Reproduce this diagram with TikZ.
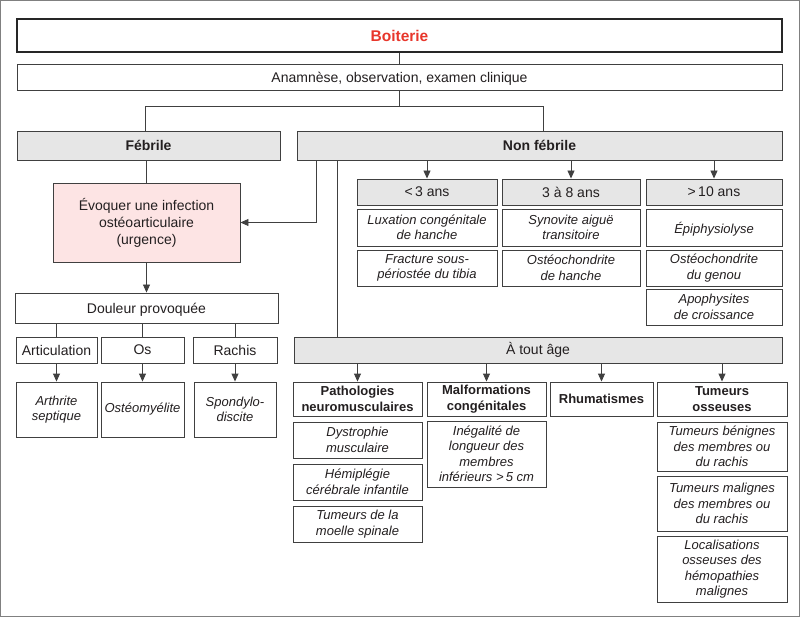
\documentclass[tikz,border=0pt]{standalone}
\usepackage{fontspec}
\setmainfont{Liberation Sans}
\usetikzlibrary{arrows.meta}
\definecolor{lc}{HTML}{404040}
\definecolor{tc}{HTML}{231F20}
\definecolor{gfill}{HTML}{E6E6E6}
\definecolor{pfill}{HTML}{FDE4E4}
\definecolor{rtext}{HTML}{E8362B}
\definecolor{bc}{HTML}{808080}
\tikzset{
  bx/.style={draw=lc, line width=0.9pt, fill=white, inner sep=1pt, align=center, text=tc, font=\fontsize{14}{17}\selectfont},
  gbx/.style={bx, fill=gfill},
  gbold/.style={gbx, font=\fontsize{14}{17}\selectfont\bfseries},
  itbx/.style={bx, font=\fontsize{13}{15.5}\selectfont\itshape},
  bdbx/.style={bx, font=\fontsize{13}{15.5}\selectfont\bfseries},
  ln/.style={draw=lc, line width=0.9pt},
  arr/.style={draw=lc, line width=0.9pt, -{Triangle[length=8pt,width=7pt]}}
}
\begin{document}
\begin{tikzpicture}[x=1pt,y=-1pt]
\useasboundingbox (0,0) rectangle (800,617);
\draw[draw=bc, line width=1pt] (0.5,0.5) rectangle (799.5,616.5);

% top
\node[bx, draw=black!85, line width=2pt, minimum width=765pt, minimum height=33pt, text=rtext, font=\fontsize{15.5}{18}\selectfont\bfseries] (boit) at (399.5,35.5) {Boiterie};
\node[bx, minimum width=765pt, minimum height=26pt, text depth=0pt] (anam) at (399.5,77) {Anamnèse, observation, examen clinique};
\node[gbold, minimum width=263pt, minimum height=29pt] (feb) at (148.5,145.5) {Fébrile};
\node[gbold, minimum width=485pt, minimum height=29pt] (nf) at (539.5,145.5) {Non fébrile};

% left branch
\node[bx, fill=pfill, minimum width=187pt, minimum height=79pt] (inf) at (146.5,222.5) {Évoquer une infection\\ostéoarticulaire\\(urgence)};
\node[bx, minimum width=263pt, minimum height=30pt, text depth=0pt] (doul) at (146.5,308) {Douleur provoquée};
\node[bx, minimum width=81pt, minimum height=26pt] (art) at (56.5,350) {Articulation};
\node[bx, minimum width=83pt, minimum height=26pt] (os) at (142.5,350) {Os};
\node[bx, minimum width=84pt, minimum height=26pt] (rach) at (235,350) {Rachis};
\node[itbx, minimum width=81pt, minimum height=55pt] (arth) at (56.5,409.5) {Arthrite\\septique};
\node[itbx, minimum width=83pt, minimum height=55pt] (osteo) at (142.5,409.5) {Ostéomyélite};
\node[itbx, minimum width=82pt, minimum height=55pt] (spond) at (235,409.5) {Spondylo-\\discite};

% age boxes
\node[gbx, minimum width=140pt, minimum height=26pt] (a1) at (427,192) {<\,3 ans};
\node[gbx, minimum width=138pt, minimum height=26pt] (a2) at (571,192) {3 à 8 ans};
\node[gbx, minimum width=136pt, minimum height=26pt] (a3) at (714,192) {>\,10 ans};
\node[itbx, minimum width=140pt, minimum height=37pt] (a1s1) at (427,227.5) {Luxation congénitale\\de hanche};
\node[itbx, minimum width=140pt, minimum height=36pt] (a1s2) at (427,268) {Fracture sous-\\périostée du tibia};
\node[itbx, minimum width=138pt, minimum height=37pt] (a2s1) at (571,227.5) {Synovite aiguë\\transitoire};
\node[itbx, minimum width=138pt, minimum height=36pt] (a2s2) at (571,268) {Ostéochondrite\\de hanche};
\node[itbx, minimum width=136pt, minimum height=37pt, text depth=0pt] (a3s1) at (714,227.5) {Épiphysiolyse};
\node[itbx, minimum width=136pt, minimum height=36pt] (a3s2) at (714,268) {Ostéochondrite\\du genou};
\node[itbx, minimum width=136pt, minimum height=36pt] (a3s3) at (714,307) {Apophysites\\de croissance};

% a tout age
\node[gbx, minimum width=488pt, minimum height=26pt] (tout) at (538,350) {À tout âge};
\node[bdbx, minimum width=129pt, minimum height=34pt] (c1) at (357.5,399) {Pathologies\\neuromusculaires};
\node[bdbx, minimum width=119pt, minimum height=34pt] (c2) at (486.5,399) {Malformations\\congénitales};
\node[bdbx, minimum width=103pt, minimum height=34pt] (c3) at (601.5,399) {Rhumatismes};
\node[bdbx, minimum width=130pt, minimum height=34pt] (c4) at (722,399) {Tumeurs\\osseuses};
\node[itbx, minimum width=129pt, minimum height=36pt] (c1s1) at (357.5,440) {Dystrophie\\musculaire};
\node[itbx, minimum width=129pt, minimum height=36pt] (c1s2) at (357.5,482) {Hémiplégie\\cérébrale infantile};
\node[itbx, minimum width=129pt, minimum height=36pt] (c1s3) at (357.5,524) {Tumeurs de la\\moelle spinale};
\node[itbx, minimum width=119pt, minimum height=66pt] (c2s1) at (486.5,454) {Inégalité de\\longueur des\\membres\\inférieurs >\,5 cm};
\node[itbx, minimum width=130pt, minimum height=49pt] (c4s1) at (722,446.5) {Tumeurs bénignes\\des membres ou\\du rachis};
\node[itbx, minimum width=130pt, minimum height=55pt] (c4s2) at (722,503.5) {Tumeurs malignes\\des membres ou\\du rachis};
\node[itbx, minimum width=130pt, minimum height=66pt] (c4s3) at (722,569) {Localisations\\osseuses des\\hémopathies\\malignes};

% connectors
\draw[ln] (boit.south) -- (anam.north);
\draw[ln] (anam.south) -- ++(0,16) coordinate (j);
\draw[ln] ([xshift=-3.5pt]feb.north) |- (j) -| ([xshift=3.5pt]nf.north);
\draw[ln] (inf.north) -- (inf.north |- feb.south);
\draw[arr] (inf.south) -- (doul.north);
\coordinate (x316) at (316,0);
\coordinate (x337) at (337,0);
\draw[arr] (nf.south -| x316) |- (inf.east);
\draw[ln] (nf.south -| x337) -- (tout.north -| x337);
\foreach \n in {art,os,rach} \draw[ln] (\n.north |- doul.south) -- (\n.north);
\draw[arr] (art.south) -- (arth.north);
\draw[arr] (os.south) -- (osteo.north);
\draw[arr] (rach.south) -- (spond.north);
\foreach \n in {a1,a2,a3} \draw[arr] (\n.north |- nf.south) -- (\n.north);
\foreach \n in {c1,c2,c3,c4} \draw[arr] (\n.north |- tout.south) -- (\n.north);
\end{tikzpicture}
\end{document}
